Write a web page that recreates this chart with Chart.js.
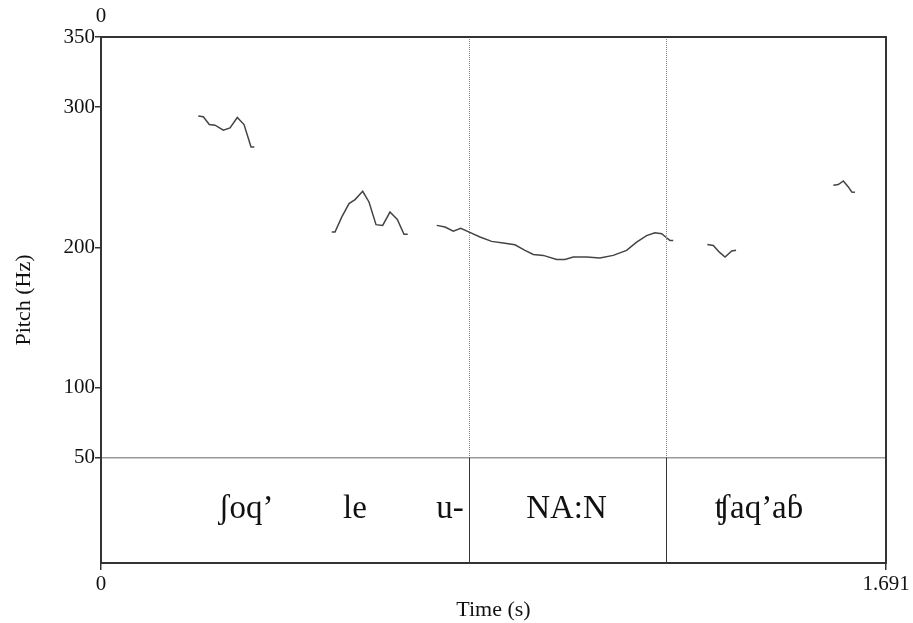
<!DOCTYPE html>
<html>
<head>
<meta charset="utf-8">
<script src="https://cdn.jsdelivr.net/npm/chart.js@4/dist/chart.umd.min.js"></script>
<style>
  body { margin: 0; background: #fff; }
  canvas { display: block; }
</style>
</head>
<body>
<canvas id="pitchChart" width="913" height="623"></canvas>
<script>
// pitch contour pieces (time in s, pitch in Hz)
const seg1Time = [0.2096, 0.2204, 0.2333, 0.2456, 0.2635, 0.2779, 0.2936, 0.3081, 0.3232, 0.3302];
const seg1Pitch = [293.6, 293.1, 287.6, 287.1, 283.6, 285.2, 292.6, 287.6, 271.6, 271.6];

const seg2Time = [0.4970, 0.5041, 0.5185, 0.5343, 0.5472, 0.5637, 0.5773, 0.5924, 0.6068, 0.6225, 0.6383, 0.6527, 0.6607];
const seg2Pitch = [210.9, 210.9, 221.6, 231.2, 234.1, 240.0, 232.4, 216.2, 215.7, 225.2, 220.0, 209.3, 209.3];

const seg3Time = [0.7232, 0.7410, 0.7589, 0.7748, 0.7933, 0.8164, 0.8415, 0.8665, 0.8917, 0.9134, 0.9312, 0.9528, 0.9815,
                  0.9994, 1.0173, 1.0461, 1.0747, 1.1034, 1.1322, 1.1538, 1.1753, 1.1932, 1.2077, 1.2184, 1.2255, 1.2327];
const seg3Pitch = [215.7, 214.5, 211.6, 213.6, 210.9, 207.4, 204.3, 203.1, 201.9, 197.9, 195.0, 194.3, 191.4,
                   191.4, 193.1, 193.1, 192.4, 194.3, 197.9, 203.8, 208.4, 210.5, 209.8, 206.9, 205.0, 205.0];

const seg4Time = [1.3061, 1.3191, 1.3320, 1.3443, 1.3587, 1.3680];
const seg4Pitch = [202.1, 201.4, 196.6, 193.1, 197.4, 197.9];

const seg5Time = [1.5776, 1.5883, 1.5991, 1.6099, 1.6172, 1.6243];
const seg5Pitch = [244.3, 244.8, 247.4, 243.1, 239.5, 239.3];

// text tier
const boundaries = [0.7927, 1.2170];
const tierWords = ["ʃoq’", "le", "u-", "NA:N", "ʧaq’aɓ"];
const tierTimes = [0.3124, 0.5472, 0.7518, 1.0028, 1.4175];

const yTicks = [50, 100, 200, 300, 350];
const xTicks = [0, 1.691];
const tierLine = 50;

const serif = "'Liberation Serif', 'DejaVu Serif', serif";

function toPoints(ts, ps) {
    return ts.map((t, i) => ({ x: t, y: ps[i] }));
}

const segments = [
    [seg1Time, seg1Pitch],
    [seg2Time, seg2Pitch],
    [seg3Time, seg3Pitch],
    [seg4Time, seg4Pitch],
    [seg5Time, seg5Pitch]
];

// box, tier boundaries and words
const praatDecor = {
    id: "praatDecor",
    afterDraw(chart) {
        const { ctx, chartArea: a, scales: { x, y } } = chart;
        const yTier = y.getPixelForValue(tierLine);
        ctx.save();

        boundaries.forEach(b => {
            const px = Math.round(x.getPixelForValue(b)) + 0.5;
            ctx.strokeStyle = "#888";
            ctx.lineWidth = 1;
            ctx.setLineDash([1, 1]);
            ctx.beginPath();
            ctx.moveTo(px, a.top);
            ctx.lineTo(px, yTier);
            ctx.stroke();
            ctx.setLineDash([]);
            ctx.strokeStyle = "#333";
            ctx.beginPath();
            ctx.moveTo(px, yTier);
            ctx.lineTo(px, a.bottom);
            ctx.stroke();
        });

        ctx.strokeStyle = "#333";
        ctx.lineWidth = 2;
        ctx.strokeRect(a.left, a.top, a.right - a.left, a.bottom - a.top);

        ctx.fillStyle = "#111";
        ctx.font = "33px " + serif;
        ctx.textAlign = "center";
        ctx.textBaseline = "alphabetic";
        tierWords.forEach((w, i) => {
            ctx.fillText(w, x.getPixelForValue(tierTimes[i]), 518);
        });

        ctx.font = "21px " + serif;
        ctx.textBaseline = "middle";
        ctx.fillText("0", a.left, 16);
        ctx.restore();
    }
};

const ctx = document.getElementById("pitchChart").getContext("2d");

new Chart(ctx, {
    type: "line",
    data: {
        datasets: segments.map(s => ({
            data: toPoints(s[0], s[1]),
            borderColor: "#444",
            borderWidth: 1.5,
            pointRadius: 0,
            tension: 0,
            fill: false
        }))
    },
    options: {
        responsive: false,
        animation: false,
        layout: { padding: { top: 37, right: 27, left: 0, bottom: 0 } },
        plugins: {
            legend: { display: false },
            tooltip: { enabled: false }
        },
        scales: {
            x: {
                type: "linear",
                min: 0,
                max: 1.691,
                afterBuildTicks: s => { s.ticks = xTicks.map(v => ({ value: v })); },
                afterFit: s => { s.height = 60; },
                border: { display: false },
                grid: { drawOnChartArea: false, drawTicks: true, tickLength: 7, tickColor: "#333", lineWidth: 1.5 },
                ticks: {
                    color: "#111",
                    font: { family: serif, size: 21 },
                    padding: 2,
                    maxRotation: 0,
                    autoSkip: false,
                    callback: v => (v === 0 ? "0" : "1.691")
                },
                title: {
                    display: true,
                    text: "Time (s)",
                    color: "#111",
                    font: { family: serif, size: 22 },
                    padding: { top: 0, bottom: 0 }
                }
            },
            y: {
                type: "linear",
                min: -25,
                max: 350,
                afterBuildTicks: s => { s.ticks = yTicks.map(v => ({ value: v })); },
                afterFit: s => { s.width = 101; },
                border: { display: false },
                grid: {
                    drawOnChartArea: true,
                    drawTicks: true,
                    tickLength: 6,
                    tickColor: "#333",
                    lineWidth: 1.5,
                    color: c => (c.tick && c.tick.value === tierLine ? "#999" : "rgba(0,0,0,0)")
                },
                ticks: {
                    color: "#111",
                    font: { family: serif, size: 21 },
                    padding: 0,
                    autoSkip: false,
                    callback: v => String(v)
                },
                title: {
                    display: true,
                    text: "Pitch (Hz)",
                    color: "#111",
                    font: { family: serif, size: 22 },
                    padding: { top: 11, bottom: 0 }
                }
            }
        }
    },
    plugins: [praatDecor]
});
</script>
</body>
</html>
